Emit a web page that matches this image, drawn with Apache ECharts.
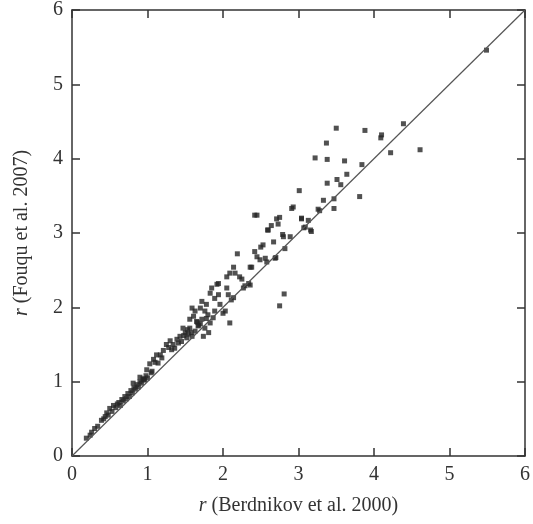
<!DOCTYPE html>
<html><head><meta charset="utf-8">
<script src="https://cdn.jsdelivr.net/npm/echarts@6/dist/echarts.min.js"></script>
<style>html,body{margin:0;padding:0;background:#fff}#c{width:533px;height:524px}</style>
</head><body><div id="c"></div>
<script>
const xTicks = [0,1,2,3,4,5,6];
const yTicks = [0,1,2,3,4,5,6];
const xTitle = 'r';
const xTitleRest = ' (Berdnikov et al. 2000)';
const yTitleRest = ' (Fouqu et al. 2007)';
const lineX = [0,6];
const lineY = [0,6];
const rBerdnikov = [
0.19,0.24,0.26,0.30,0.34,0.39,0.42,0.44,0.46,0.48,0.50,0.53,0.55,0.58,0.60,0.62,0.64,0.66,0.68,0.70,
0.72,0.74,0.76,0.78,0.80,0.81,0.82,0.84,0.86,0.88,0.90,0.90,0.92,0.94,0.96,0.98,0.99,1.00,1.03,1.05,
1.08,1.10,1.12,1.17,1.19,1.21,1.25,1.28,1.30,1.34,1.39,1.41,1.43,1.45,1.47,1.50,1.52,1.54,1.56,1.56,
1.59,1.59,1.61,1.63,1.63,1.65,1.67,1.70,1.70,1.72,1.72,1.74,1.76,1.76,1.78,1.78,1.80,1.81,1.83,1.83,
1.85,1.87,1.89,1.89,1.92,1.94,1.94,1.96,2.00,2.03,2.05,2.05,2.07,2.09,2.09,2.11,2.14,2.14,2.16,2.19,
2.22,2.25,2.27,2.29,2.34,2.36,2.36,2.38,2.42,2.42,2.45,2.45,2.49,2.50,2.53,2.56,2.58,2.59,2.60,2.64,
2.67,2.69,2.70,2.71,2.73,2.75,2.75,2.79,2.80,2.81,2.82,2.89,2.91,2.93,3.01,3.04,3.04,3.07,3.09,3.13,
3.16,3.17,3.22,3.26,3.28,3.33,3.37,3.38,3.38,3.47,3.47,3.50,3.51,3.56,3.61,3.64,3.81,3.84,3.88,4.10,
4.09,4.22,4.39,4.61,5.49,1.48,1.53,1.58,1.66,1.68,1.36,1.32,1.14,1.06,0.95
];
const rFouque = [
0.24,0.28,0.32,0.37,0.40,0.48,0.50,0.53,0.58,0.55,0.64,0.60,0.68,0.65,0.70,0.72,0.68,0.76,0.74,0.80,
0.77,0.84,0.80,0.88,0.85,0.98,0.92,0.90,0.96,0.93,1.00,1.06,0.98,1.04,1.02,1.08,1.16,1.05,1.24,1.12,
1.30,1.26,1.36,1.36,1.32,1.42,1.50,1.46,1.55,1.50,1.57,1.52,1.61,1.54,1.72,1.66,1.59,1.64,1.72,1.84,
1.61,1.99,1.88,1.95,1.68,1.81,1.75,1.99,1.78,1.84,2.08,1.61,1.72,1.95,2.04,1.85,1.90,1.66,2.19,1.79,
2.26,1.86,2.12,1.95,2.31,2.32,2.17,2.04,1.92,1.95,2.26,2.41,2.17,2.46,1.79,2.10,2.54,2.13,2.46,2.72,
2.41,2.38,2.26,2.29,2.32,2.54,2.30,2.54,2.75,3.24,3.24,2.68,2.64,2.81,2.84,2.66,2.61,3.04,3.04,3.10,
2.88,2.66,2.67,3.19,3.12,3.21,2.02,2.98,2.95,2.18,2.79,2.95,3.33,3.35,3.57,3.19,3.20,3.07,3.08,3.17,
3.04,3.02,4.01,3.32,3.30,3.44,4.21,3.99,3.67,3.46,3.33,4.41,3.72,3.65,3.97,3.79,3.49,3.92,4.38,4.32,
4.28,4.08,4.47,4.12,5.46,1.62,1.70,1.66,1.80,1.76,1.45,1.43,1.25,1.14,1.03
];
const pts = rBerdnikov.map((v,i)=>[v, rFouque[i]]);
const font = 'Liberation Serif';
const chart = echarts.init(document.getElementById('c'));
const axisBase = {
  type:'value', min:0, max:6, interval:1,
  axisLine:{show:true, onZero:false, lineStyle:{color:'#333', width:1.5}},
  axisTick:{show:true, inside:true, length:8, lineStyle:{color:'#333', width:1.5}},
  splitLine:{show:false},
  axisLabel:{fontFamily:font, fontSize:20, color:'#333', margin:9}
};
chart.setOption({
  animation:false,
  backgroundColor:'#fff',
  grid:{left:72, right:8, top:6, bottom:68},
  xAxis:[
    Object.assign({}, axisBase, {position:'bottom',
      axisLabel:Object.assign({}, axisBase.axisLabel, {formatter:v=>xTicks.includes(v)?String(v):''}),
      name:'{i|'+xTitle+'}'+xTitleRest, nameLocation:'middle', nameGap:40,
      nameTextStyle:{fontFamily:font, fontSize:20, color:'#333', rich:{i:{fontFamily:font, fontSize:20, fontStyle:'italic', color:'#333'}}}}),
    Object.assign({}, axisBase, {position:'top', axisLabel:{show:false}})
  ],
  yAxis:[
    Object.assign({}, axisBase, {position:'left',
      axisLabel:Object.assign({}, axisBase.axisLabel, {formatter:v=>yTicks.includes(v)?String(v):''}),
      name:'{i|'+xTitle+'}'+yTitleRest, nameLocation:'middle', nameGap:40, nameRotate:90,
      nameTextStyle:{fontFamily:font, fontSize:20, color:'#333', rich:{i:{fontFamily:font, fontSize:20, fontStyle:'italic', color:'#333'}}}}),
    Object.assign({}, axisBase, {position:'right', axisLabel:{show:false}})
  ],
  series:[
    {type:'line', data:lineX.map((v,i)=>[v,lineY[i]]), symbol:'none', silent:true,
     lineStyle:{color:'#555', width:1.2}},
    {type:'scatter', data:pts, symbol:'rect', symbolSize:5,
     itemStyle:{color:'#262626'}}
  ]
});
</script></body></html>
